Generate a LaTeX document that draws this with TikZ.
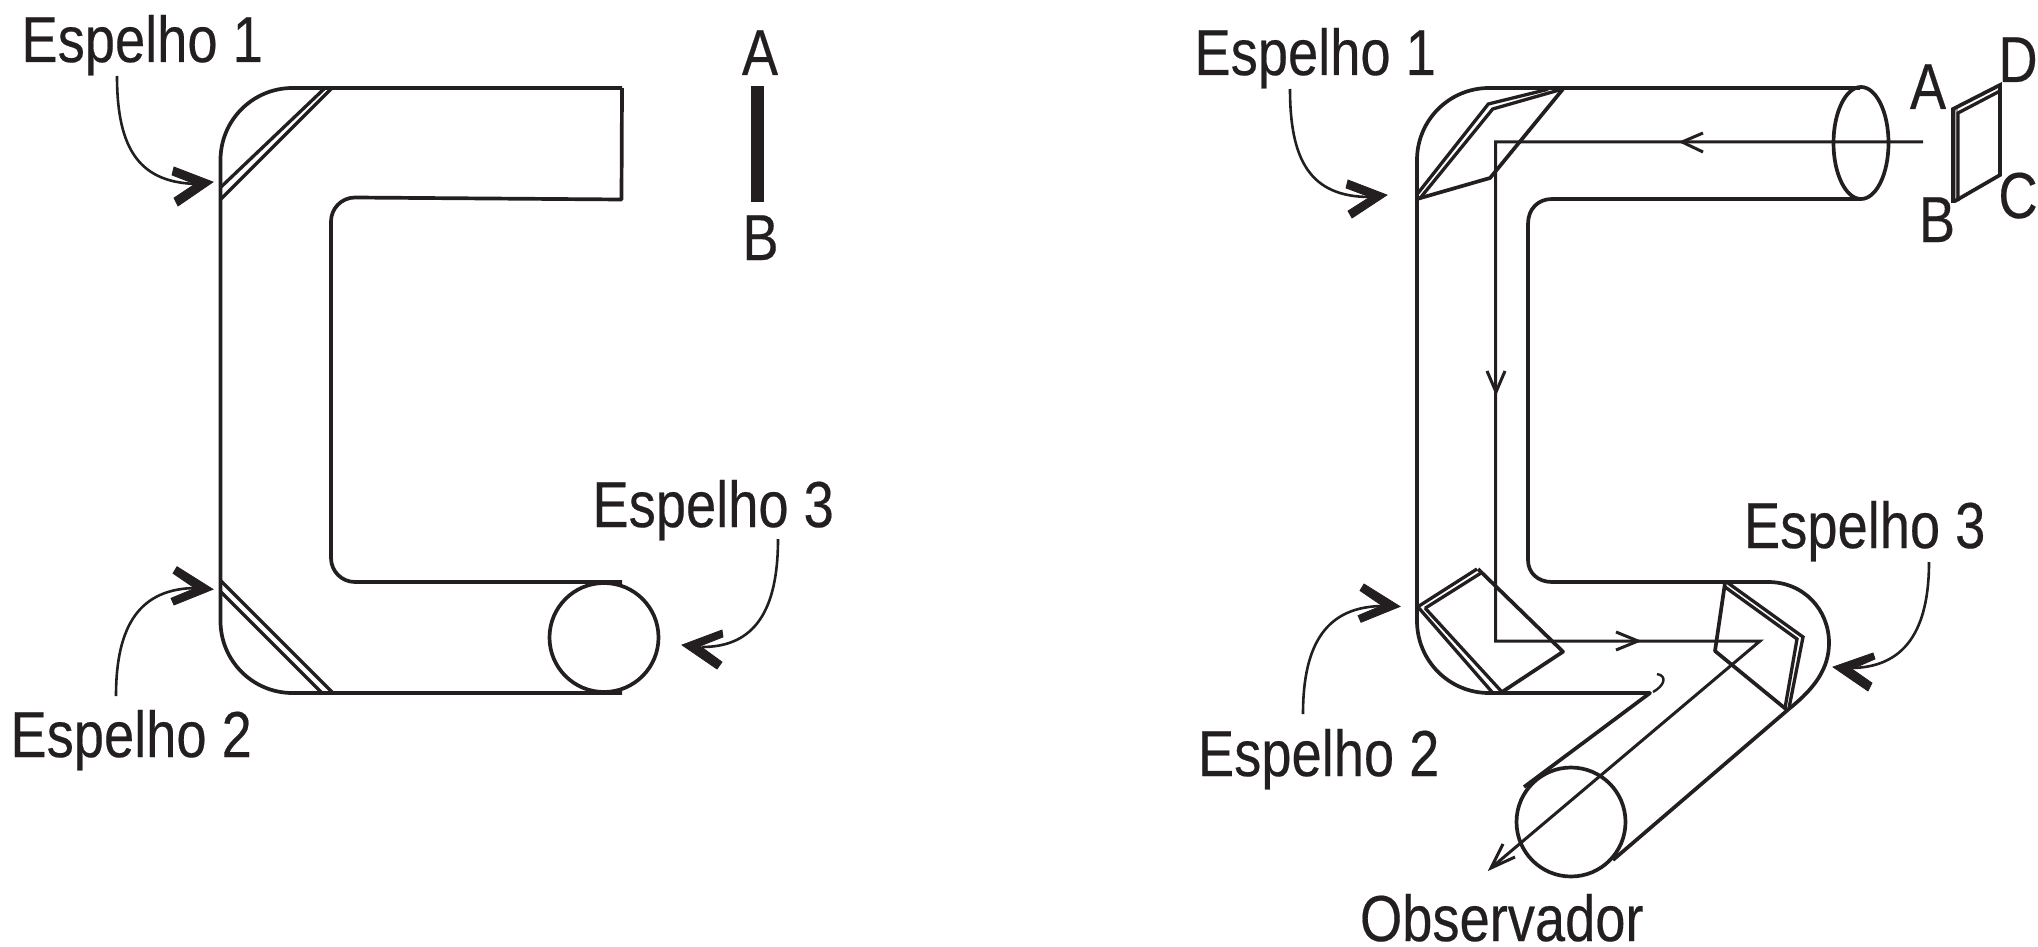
\documentclass[tikz,border=0pt]{standalone}
\usepackage{fontspec}
\usetikzlibrary{shapes.geometric}
\setmainfont[FakeStretch=0.835,FakeBold=0.3]{Liberation Sans}
\definecolor{ink}{HTML}{231F20}
\tikzset{
  x=1pt,y=-1pt,
  wall/.style={draw=ink,line width=3.7pt,line join=round},
  mirror/.style={draw=ink,line width=3.3pt,line join=miter},
  ray/.style={draw=ink,line width=3pt},
  leader/.style={draw=ink,line width=2.6pt},
  chev/.style={fill=ink,draw=ink,line width=0.8pt},
  lbl/.style={anchor=base west,inner sep=0pt,outer sep=0pt,text=ink,font=\fontsize{65}{65}\selectfont},
  clbl/.style={anchor=base,inner sep=0pt,outer sep=0pt,text=ink,font=\fontsize{65}{65}\selectfont},
}
\begin{document}
\begin{tikzpicture}
\useasboundingbox (0,0) rectangle (2038,947);
% ---------- left figure ----------
\draw[wall,rounded corners=72pt] (622,88) -- (220.5,88) -- (220.5,693) -- (622,693);
\draw[wall,rounded corners=24pt] (622,88) [sharp corners] -- (621.5,199.5) -- (355,197.5) [rounded corners=24pt] -- (331,197.5) -- (331,582) -- (622,582);
\node[circle,draw=ink,line width=3.7pt,minimum size=109pt,inner sep=0pt] (c1) at (604,637.5) {};
\draw[mirror] (221,187) -- (325,88);
\draw[mirror] (221,199) -- (332,88);
\draw[mirror] (221,581) -- (333,693);
\draw[mirror] (221,592) -- (322,693);
\node[lbl] (e1) at (21.5,62) {Espelho 1};
\node[lbl] (e2) at (10.5,757) {Espelho 2};
\node[lbl] (e3) at (592.5,527) {Espelho 3};
\node[clbl] (la) at (760,75) {A};
\node[clbl] (lb) at (760.5,260) {B};
\fill[ink] (751,86) rectangle (763.5,202);
% leaders left
\draw[leader] (117,76) .. controls (117,150) and (140,184) .. (200,184);
\filldraw[chev] (213,182) -- (174,167) -- (172,175) -- (195,184) -- (174,198) -- (178,206) -- cycle;
\draw[leader] (116,696) .. controls (116,625) and (140,588) .. (197,588);
\filldraw[chev] (213,589.3) -- (177,566.7) -- (173,573.3) -- (195,588.3) -- (171,598.3) -- (174,605) -- cycle;
\draw[leader] (778,539) .. controls (778,610) and (755,647) .. (702,647);
\filldraw[chev] (682,645) -- (722,630) -- (723,637) -- (700,646) -- (722,662) -- (717,669) -- cycle;
% ---------- right figure ----------
\draw[wall,rounded corners=72pt] (1860,88) -- (1417,88) -- (1417,693) [sharp corners] -- (1650,693) -- (1524,787);
\draw[wall] (1860,199) -- (1552,199) .. controls (1538,199) and (1528,209) .. (1528,224) -- (1528,560) .. controls (1528,573) and (1538,582) .. (1552,582) -- (1768,582) .. controls (1804,582) and (1829,610) .. (1829,643) .. controls (1829,668) and (1815,688) .. (1790,708) -- (1613,860);
\node[ellipse,draw=ink,line width=3.7pt,minimum width=55pt,minimum height=112pt,inner sep=0pt] (ell) at (1861,143) {};
\node[circle,draw=ink,line width=3.7pt,minimum size=109pt,inner sep=0pt] (c2) at (1571,822) {};
\draw[ink,line width=2.4pt] (1653,692) .. controls (1664,686) and (1668,676) .. (1657,674);
% rays
\coordinate (r0) at (1923,142);
\coordinate (r1) at (1495.5,142);
\coordinate (r2) at (1495.5,641);
\coordinate (r3) at (1760,641);
\coordinate (r4) at (1491,868);
\draw[ray,line join=miter] (r0) -- (r1) -- (r2) -- (r3) -- (r4);
\draw[ray] (1703,133) -- (1682,142) -- (1703,152);
\draw[ray] (1487,371) -- (1496,392) -- (1505,371);
\draw[ray] (1616,632) -- (1638,641) -- (1616,650);
\draw[ray,line join=miter] (1503,844) -- (1491,868) -- (1515,857);
% mirror 1
\draw[wall] (1417,199) -- (1490,178) -- (1495,172) -- (1563,89);
\draw[mirror] (1417.3,194) -- (1488.3,104) -- (1548,89.3);
\draw[mirror] (1420,198.3) -- (1492.7,109) -- (1561.7,89.3);
% mirror 2
\draw[wall] (1478,569) -- (1563,651.7) -- (1502,692);
\draw[mirror] (1419,606) -- (1477,569);
\draw[mirror] (1425,608.3) -- (1481,573);
\draw[mirror] (1418,607) -- (1492,692);
\draw[mirror] (1425,608) -- (1502,692);
% mirror 3
\draw[wall] (1725,583) -- (1715,651) -- (1787,710);
\draw[mirror] (1728,583) -- (1803,637) -- (1789,708);
\draw[mirror] (1725,587) -- (1797,639) -- (1785,708);
% object
\fill[gray!70] (1953,109) rectangle (1958,201);
\draw[wall,line join=miter] (1953,109) -- (2000,85) -- (2000,175) -- (1955,201) -- (1953,201) -- cycle;
\draw[mirror] (1958,201) -- (1958,113) -- (2000,91);
% labels
\node[lbl] (r1e) at (1194.5,75) {Espelho 1};
\node[lbl] (r2e) at (1198,776) {Espelho 2};
\node[lbl] (r3e) at (1744,548) {Espelho 3};
\node[lbl] (obs) at (1360,941) {Observador};
\node[clbl] (ra) at (1928,109) {A};
\node[clbl] (rb) at (1937,242) {B};
\node[clbl] (rc) at (2018,218) {C};
\node[clbl] (rd) at (2018,82) {D};
% leaders right
\draw[leader] (1290,89) .. controls (1290,160) and (1310,197) .. (1370,197);
\filldraw[chev] (1387,195) -- (1348,180) -- (1346,188) -- (1370,197) -- (1348,211) -- (1352,218) -- cycle;
\draw[leader] (1303,714) .. controls (1303,643) and (1327,606) .. (1384,606);
\filldraw[chev] (1400,606.5) -- (1364,584) -- (1360,590.6) -- (1382,605.6) -- (1358,615.6) -- (1361,622.3) -- cycle;
\draw[leader] (1929,562) .. controls (1929,630) and (1905,668) .. (1850,668);
\filldraw[chev] (1833,667) -- (1873,653) -- (1875,659) -- (1852,669) -- (1872,683) -- (1868,691) -- cycle;
\end{tikzpicture}
\end{document}
